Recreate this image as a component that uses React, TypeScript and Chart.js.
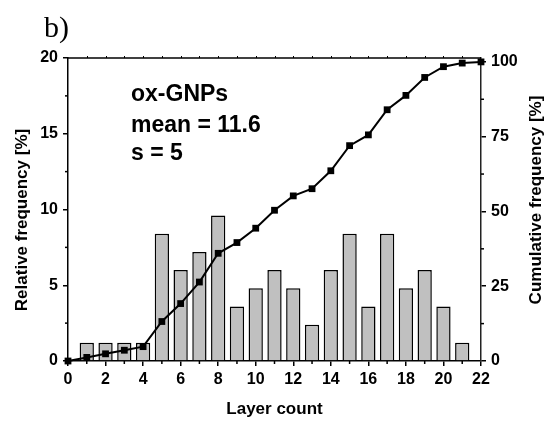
import React, { useEffect, useRef } from 'react';
import { Chart, registerables } from 'chart.js';

Chart.register(...registerables);

const FONT = '"Liberation Sans", Arial, Helvetica, sans-serif';

// Histogram: layer count (categories) and relative frequency [%]
const barLayers = [1, 2, 3, 4, 5, 6, 7, 8, 9, 10, 11, 12, 13, 14, 15, 16, 17, 18, 19, 20, 21];
const relFreq = [1.2, 1.2, 1.2, 1.2, 8.4, 6.0, 7.2, 9.6, 3.6, 4.8, 6.0, 4.8, 2.4, 6.0, 8.4, 3.6, 8.4, 4.8, 6.0, 3.6, 1.2];

// Cumulative frequency [%]
const cumLayers = [0, 1, 2, 3, 4, 5, 6, 7, 8, 9, 10, 11, 12, 13, 14, 15, 16, 17, 18, 19, 20, 21, 22];
const cumFreq = [0, 1.2, 2.4, 3.6, 4.8, 13.2, 19.2, 26.4, 36.0, 39.6, 44.4, 50.4, 55.2, 57.6, 63.6, 72.0, 75.6, 84.0, 88.8, 94.8, 98.4, 99.6, 100];

// Tick labels
const xTicks = [0, 2, 4, 6, 8, 10, 12, 14, 16, 18, 20, 22];
const xMinorTicks = [1, 3, 5, 7, 9, 11, 13, 15, 17, 19, 21];
const leftTicks = [0, 5, 10, 15, 20];
const leftMinorTicks = [2.5, 7.5, 12.5, 17.5];
const rightTicks = [0, 25, 50, 75, 100];
const rightMinorTicks = [12.5, 37.5, 62.5, 87.5];

const panelLabel = 'b)';
const annotationLines = ['ox-GNPs', 'mean = 11.6', 's = 5'];
const xTitle = 'Layer count';
const leftTitle = 'Relative frequency [%]';
const rightTitle = 'Cumulative frequency [%]';

export default function App() {
  const ref = useRef<HTMLCanvasElement>(null);

  useEffect(() => {
    const canvas = ref.current;
    if (!canvas) return;

    const tickFont = { family: FONT, size: 16, weight: 'bold' as const };

    const decor = {
      id: 'decor',
      afterDraw(chart: any) {
        const ctx = chart.ctx as CanvasRenderingContext2D;
        const ca = chart.chartArea;
        const sx = chart.scales.x;
        const sy = chart.scales.y;
        const sy1 = chart.scales.y1;
        ctx.save();
        ctx.strokeStyle = '#000';
        ctx.lineWidth = 1.5;
        // top frame line
        ctx.beginPath();
        ctx.moveTo(ca.left, ca.top);
        ctx.lineTo(ca.right, ca.top);
        ctx.stroke();
        ctx.lineWidth = 1;
        // top small ticks
        for (let v = 1; v < 22; v++) {
          const px = Math.round(sx.getPixelForValue(v)) + 0.5;
          ctx.beginPath();
          ctx.moveTo(px, ca.top);
          ctx.lineTo(px, ca.top - 2);
          ctx.stroke();
        }
        ctx.lineWidth = 1.5;
        // minor ticks
        xMinorTicks.forEach((v) => {
          const px = sx.getPixelForValue(v);
          ctx.beginPath();
          ctx.moveTo(px, ca.bottom);
          ctx.lineTo(px, ca.bottom + 3);
          ctx.stroke();
        });
        leftMinorTicks.forEach((v) => {
          const py = sy.getPixelForValue(v);
          ctx.beginPath();
          ctx.moveTo(ca.left, py);
          ctx.lineTo(ca.left - 3, py);
          ctx.stroke();
        });
        rightMinorTicks.forEach((v) => {
          const py = sy1.getPixelForValue(v);
          ctx.beginPath();
          ctx.moveTo(ca.right, py);
          ctx.lineTo(ca.right + 3, py);
          ctx.stroke();
        });

        ctx.fillStyle = '#000';
        // panel label
        ctx.font = '30px "Liberation Serif", "Times New Roman", serif';
        ctx.textAlign = 'left';
        ctx.textBaseline = 'alphabetic';
        ctx.fillText(panelLabel, 44, 37);

        // annotation
        ctx.font = `bold 23px ${FONT}`;
        const baselines = [101, 131.5, 160];
        annotationLines.forEach((t, i) => ctx.fillText(t, 131, baselines[i]));

        // axis titles
        ctx.font = `bold 17px ${FONT}`;
        ctx.textAlign = 'center';
        ctx.textBaseline = 'middle';
        ctx.fillText(xTitle, (ca.left + ca.right) / 2, 409);

        ctx.save();
        ctx.translate(22, 220);
        ctx.rotate(-Math.PI / 2);
        ctx.fillText(leftTitle, 0, 0);
        ctx.restore();

        ctx.save();
        ctx.translate(536, 200);
        ctx.rotate(-Math.PI / 2);
        ctx.fillText(rightTitle, 0, 0);
        ctx.restore();

        ctx.restore();
      },
    };

    const chart = new Chart(canvas, {
      type: 'bar',
      data: {
        datasets: [
          {
            type: 'line',
            label: 'Cumulative',
            data: cumLayers.map((x, i) => ({ x, y: cumFreq[i] })),
            xAxisID: 'x',
            yAxisID: 'y1',
            borderColor: '#000',
            backgroundColor: '#000',
            borderWidth: 2,
            pointStyle: 'rect',
            pointRadius: 4.8,
            pointBackgroundColor: '#000',
            pointBorderColor: '#000',
            pointBorderWidth: 0,
            tension: 0,
            fill: false,
            clip: false,
            order: 0,
          } as any,
          {
            type: 'bar',
            label: 'Relative',
            data: barLayers.map((x, i) => ({ x, y: relFreq[i] })),
            xAxisID: 'x',
            yAxisID: 'y',
            backgroundColor: '#c0c0c0',
            borderColor: '#000',
            borderWidth: 1.5,
            categoryPercentage: 1,
            barPercentage: 0.76,
            order: 1,
          } as any,
        ],
      },
      options: {
        responsive: false,
        maintainAspectRatio: false,
        animation: false,
        layout: { padding: { top: 58, left: 0, right: 0, bottom: 0 } },
        plugins: {
          legend: { display: false },
          tooltip: { enabled: false },
          title: { display: false },
        },
        scales: {
          x: {
            type: 'linear',
            position: 'bottom',
            min: 0,
            max: 22,
            offset: false,
            afterFit(s: any) {
              s.height = 60;
            },
            afterBuildTicks(s: any) {
              s.ticks = xTicks.map((v) => ({ value: v }));
            },
            ticks: { font: tickFont, color: '#000', padding: 4, maxRotation: 0, autoSkip: false },
            grid: { drawOnChartArea: false, drawTicks: true, tickLength: 5, color: '#000', lineWidth: 1.5, offset: false },
            border: { display: true, color: '#000', width: 1.5 },
          },
          y: {
            type: 'linear',
            position: 'left',
            min: 0,
            max: 20,
            afterFit(s: any) {
              s.width = 68;
            },
            afterBuildTicks(s: any) {
              s.ticks = leftTicks.map((v) => ({ value: v }));
            },
            ticks: { font: tickFont, color: '#000', padding: 5 },
            grid: { drawOnChartArea: false, drawTicks: true, tickLength: 5, color: '#000', lineWidth: 1.5 },
            border: { display: true, color: '#000', width: 1.5 },
          },
          y1: {
            type: 'linear',
            position: 'right',
            min: 0,
            max: 101.3,
            afterFit(s: any) {
              s.width = 66;
            },
            afterBuildTicks(s: any) {
              s.ticks = rightTicks.map((v) => ({ value: v }));
            },
            ticks: { font: tickFont, color: '#000', padding: 5 },
            grid: { drawOnChartArea: false, drawTicks: true, tickLength: 5, color: '#000', lineWidth: 1.5 },
            border: { display: true, color: '#222', width: 1.5 },
          },
        },
      } as any,
      plugins: [decor],
    });

    return () => chart.destroy();
  }, []);

  return (
    <div style={{ position: 'fixed', left: 0, top: 0, width: 547, height: 421, background: '#fff' }}>
      <canvas ref={ref} width={547} height={421} style={{ display: 'block', width: 547, height: 421 }} />
    </div>
  );
}
